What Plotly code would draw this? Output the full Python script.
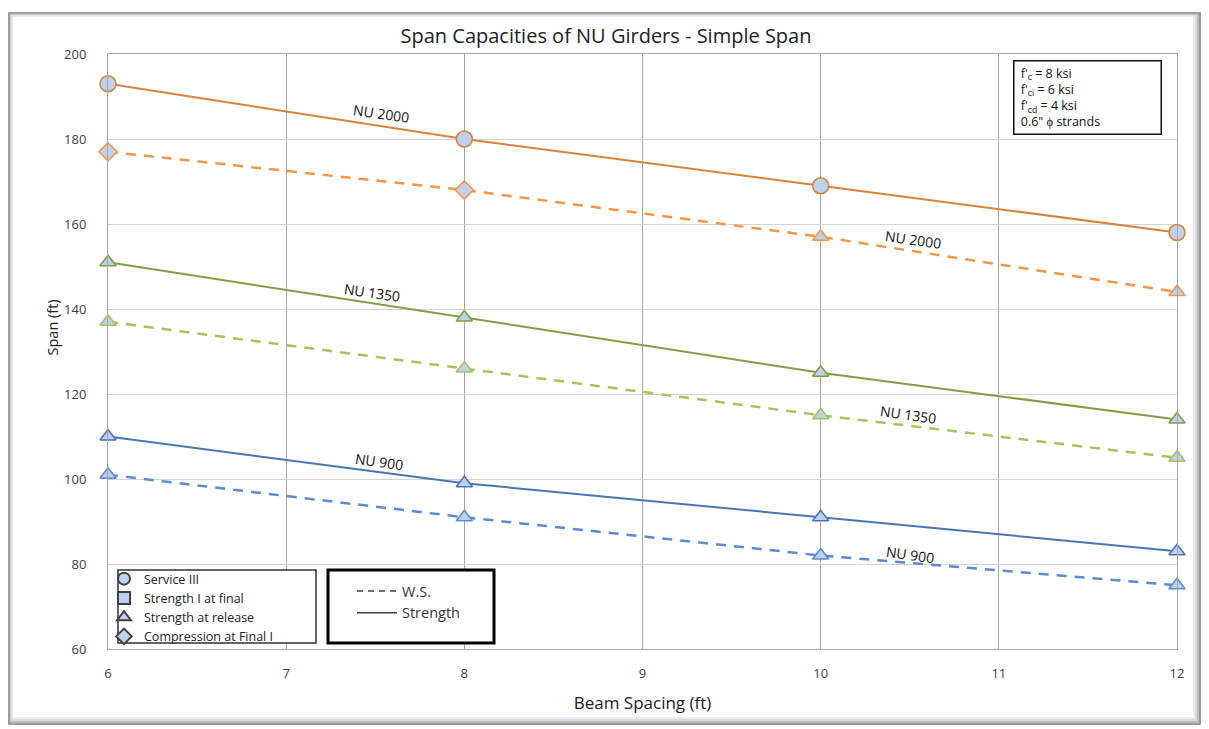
import plotly.graph_objects as go

# ---- data ----
spacing = [6, 8, 10, 12]

nu2000_strength = [193, 180, 169, 158]
nu2000_ws = [177, 168, 157, 144]
nu1350_strength = [151, 138, 125, 114]
nu1350_ws = [137, 126, 115, 105]
nu900_strength = [110, 99, 91, 83]
nu900_ws = [101, 91, 82, 75]

# marker shape per point (which limit state governs)
sym_2000_strength = ["circle"] * 4
sym_2000_ws = ["diamond", "diamond", "triangle-up", "triangle-up"]
sym_tri = ["triangle-up"] * 4

legend_states = ["Service III", "Strength I at final", "Strength at release", "Compression at Final I"]
legend_symbols = ["circle", "square", "triangle-up", "diamond"]

# ---- layout helpers (screen pixel -> paper); page body has an 8px margin ----
OFF = 8
W, H = 1209 - OFF, 729 - OFF
ML, MT = 108 - OFF, 54 - OFF
PW, PH = 1069, 595
MR, MB = W - ML - PW, H - MT - PH


def xp(px):
    return (px - OFF - ML) / PW


def yp(py):
    return (MT + PH - (py - OFF)) / PH


FONT = "Open Sans"
FILL = "#bed1ee"

fig = go.Figure()

series = [
    (nu2000_strength, sym_2000_strength, "#d9823b", "solid", 2),
    (nu2000_ws, sym_2000_ws, "#f79646", "10px,8px", 2.5),
    (nu1350_strength, sym_tri, "#7f9f45", "solid", 2),
    (nu1350_ws, sym_tri, "#a5c45e", "10px,8px", 2.5),
    (nu900_strength, sym_tri, "#4a76b0", "solid", 2),
    (nu900_ws, sym_tri, "#5b8bd0", "10px,8px", 2.5),
]

for ys, syms, color, dash, width in series:
    sizes = [16 if s == "circle" else 14 for s in syms]
    fig.add_trace(go.Scatter(
        x=spacing, y=ys, mode="lines+markers", showlegend=False, cliponaxis=False,
        line=dict(color=color, dash=dash, width=width),
        marker=dict(symbol=syms, size=sizes, color=FILL, opacity=1,
                    line=dict(color=color, width=1.6)),
    ))

# legend 1: limit states (marker shapes)
for name, sym in zip(legend_states, legend_symbols):
    fig.add_trace(go.Scatter(
        x=[None], y=[None], mode="markers", name=name, legend="legend",
        marker=dict(symbol=sym, size=13, color=FILL, line=dict(color="#404040", width=1.2)),
    ))

# legend 2: line styles
fig.add_trace(go.Scatter(x=[None], y=[None], mode="lines", name="W.S.", legend="legend2",
                         line=dict(color="#404040", dash="6px,5px", width=1.5)))
fig.add_trace(go.Scatter(x=[None], y=[None], mode="lines", name="Strength", legend="legend2",
                         line=dict(color="#404040", width=1.5)))

# curve labels
labels = [
    ("NU 2000", 7.53, 185.9),
    ("NU 2000", 10.52, 156.3),
    ("NU 1350", 7.48, 144.0),
    ("NU 1350", 10.49, 115.1),
    ("NU 900", 7.52, 104.2),
    ("NU 900", 10.50, 82.3),
]
for txt, lx, ly in labels:
    fig.add_annotation(x=lx, y=ly, text=txt, showarrow=False, textangle=8,
                       font=dict(family=FONT, size=14, color="#111"))

# material note box
pad = "&nbsp;"
fig.add_annotation(
    xref="paper", yref="paper", x=xp(1013), y=yp(60), xanchor="left", yanchor="top",
    text="<br>".join(pad + s for s in [
        "f'<sub>c</sub> = 8 ksi", "f'<sub>ci</sub> = 6 ksi",
        "f'<sub>cd</sub> = 4 ksi", "0.6\" \u03d5 strands"]),
    align="left", showarrow=False, bordercolor="#111", borderwidth=1.5, borderpad=3,
    bgcolor="white", width=140, font=dict(family=FONT, size=12.5, color="#111"),
)

# y axis title (sits a little above the plot centre in the reference)
fig.add_annotation(
    xref="paper", yref="paper", x=xp(40), y=yp(328), text="Span (ft)", textangle=-90,
    showarrow=False, font=dict(family=FONT, size=14.5, color="#222"),
)

shapes = []
# outer chart frame with a soft shadow
for i, c in enumerate(["#7a7a7a", "#a8a8a8", "#cfcfcf", "#e8e8e8"]):
    shapes.append(dict(type="rect", xref="paper", yref="paper",
                       x0=xp(9 + i), x1=xp(1200 - i * 2), y0=yp(724 - i * 2), y1=yp(13 + i),
                       line=dict(color=c, width=1.5), layer="below"))
# legend boxes
shapes.append(dict(type="rect", xref="paper", yref="paper", x0=xp(118), x1=xp(316),
                   y0=yp(643), y1=yp(570), line=dict(color="#303030", width=1.5),
                   fillcolor="white", layer="above"))
shapes.append(dict(type="rect", xref="paper", yref="paper", x0=xp(328), x1=xp(494),
                   y0=yp(643), y1=yp(570), line=dict(color="#000", width=3),
                   fillcolor="white", layer="above"))

fig.update_layout(
    width=W, height=H,
    margin=dict(l=ML, r=MR, t=MT, b=MB),
    paper_bgcolor="white", plot_bgcolor="white",
    font=dict(family=FONT, color="#404040"),
    title=dict(text="Span Capacities of NU Girders - Simple Span", xref="paper", x=xp(606),
               xanchor="center", y=yp(36) * PH / H + MB / H, yanchor="middle",
               font=dict(family=FONT, size=20, color="#222")),
    shapes=shapes,
    legend=dict(x=xp(104), y=yp(564), xanchor="left", yanchor="top",
                bgcolor="rgba(0,0,0,0)", borderwidth=0, tracegroupgap=0,
                font=dict(family=FONT, size=12.5, color="#222"), itemsizing="constant"),
    legend2=dict(x=xp(352), y=yp(575), xanchor="left", yanchor="top",
                 bgcolor="rgba(0,0,0,0)", borderwidth=0, itemwidth=40,
                 font=dict(family=FONT, size=14.5, color="#333")),
)

fig.update_xaxes(
    range=[6, 12], dtick=1, tick0=6,
    showgrid=True, gridcolor="#a6a6a6", gridwidth=1,
    showline=True, linecolor="#a6a6a6", mirror=True, zeroline=False,
    ticks="", ticklabelstandoff=12,
    tickfont=dict(family=FONT, size=13, color="#404040"),
    title=dict(text="Beam Spacing (ft)", standoff=16, font=dict(family=FONT, size=17, color="#222")),
)
fig.update_yaxes(
    range=[60, 200], dtick=20, tick0=60,
    showgrid=True, gridcolor="#d4d4d4", gridwidth=1,
    showline=True, linecolor="#a6a6a6", mirror=True, zeroline=False,
    ticks="", ticklabelstandoff=18,
    tickfont=dict(family=FONT, size=13, color="#404040"),
)

fig.write_html("out.html")
